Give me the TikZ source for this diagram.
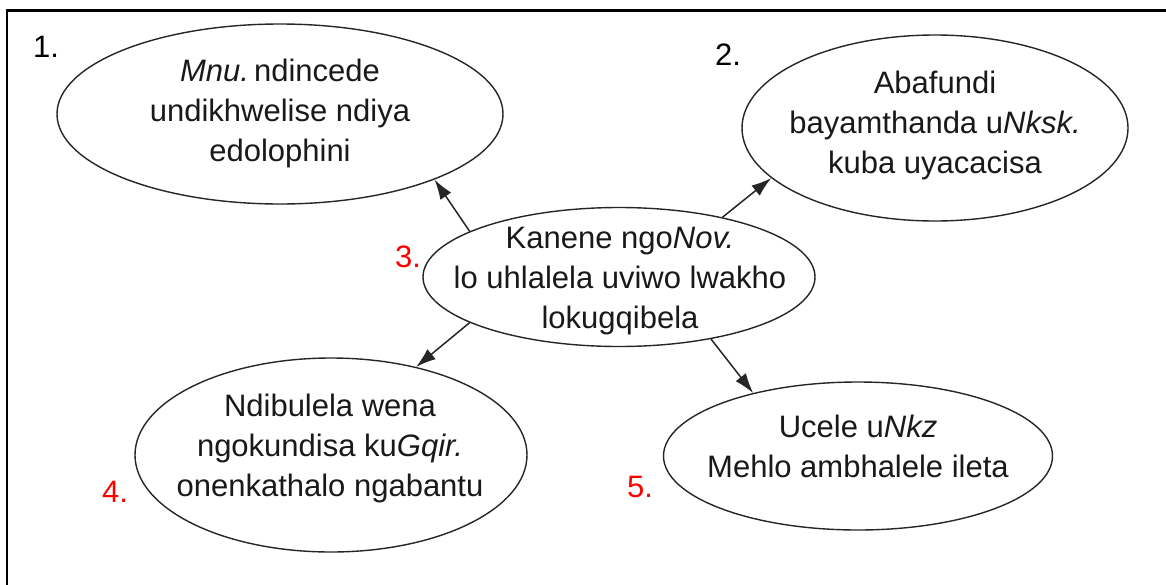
\documentclass[tikz,border=0pt]{standalone}
\usepackage{fontspec}
\setmainfont{Liberation Sans}
\usetikzlibrary{shapes.geometric,arrows.meta}
\begin{document}
\begin{tikzpicture}[x=1pt,y=-1pt,
  bubble/.style={ellipse,draw=black!85,line width=1.4pt,inner sep=0pt},
  txt/.style={align=center,font=\fontsize{31}{40}\selectfont,text=black!90,inner sep=0pt},
  lbl/.style={anchor=base west,font=\fontsize{31}{40}\selectfont,inner sep=0pt},
  conn/.style={line width=1.5pt,draw=black!85,-{Latex[length=20pt,width=13pt]}}]
\useasboundingbox (0,0) rectangle (1166,584);
\fill[white] (0,0) rectangle (1166,584);
\draw[line width=2.5pt] (7,600) -- (7,10.5) -- (1180,10.5);
% ellipses
\node[bubble,minimum width=446pt,minimum height=180pt] (e1) at (280,114) {};
\node[bubble,minimum width=386pt,minimum height=186pt] (e2) at (935,128) {};
\node[bubble,minimum width=392pt,minimum height=139pt] (e3) at (619,277) {};
\node[bubble,minimum width=392pt,minimum height=194pt] (e4) at (331,455) {};
\node[bubble,minimum width=389pt,minimum height=148pt] (e5) at (858,456) {};
% texts
\node[txt] (t1) at (280,113) {\strut\textit{Mnu.}\,ndincede\\\strut undikhwelise ndiya\\\strut edolophini};
\node[txt] (t2) at (935,125.5) {\strut Abafundi\\\strut bayamthanda u\textit{Nksk.}\\\strut kuba uyacacisa};
\node[txt] (t3) at (620,280.5) {\strut Kanene ngo\textit{Nov.}\\\strut lo uhlalela uviwo lwakho\\\strut lokugqibela};
\node[txt] (t4) at (330,448) {\strut Ndibulela wena\\\strut ngokundisa ku\textit{Gqir.}\\\strut onenkathalo ngabantu};
\node[txt] (t5) at (858,449.5) {\strut Ucele u\textit{Nkz}\\\strut Mehlo ambhalele ileta};
% labels
\node[lbl] (l1) at (33,57) {1.};
\node[lbl] (l2) at (715,65) {2.};
\node[lbl,text=red] (l3) at (395,267) {3.};
\node[lbl,text=red] (l4) at (102,502) {4.};
\node[lbl,text=red] (l5) at (627,497) {5.};
% connectors
\draw[conn] (e3.163.7) -- (e1.337);
\draw[conn] (e3.30) -- (e2.197);
\draw[conn] (e3.197) -- (e4.46);
\draw[conn] (e3.326) -- (e5.149);
\end{tikzpicture}
\end{document}
